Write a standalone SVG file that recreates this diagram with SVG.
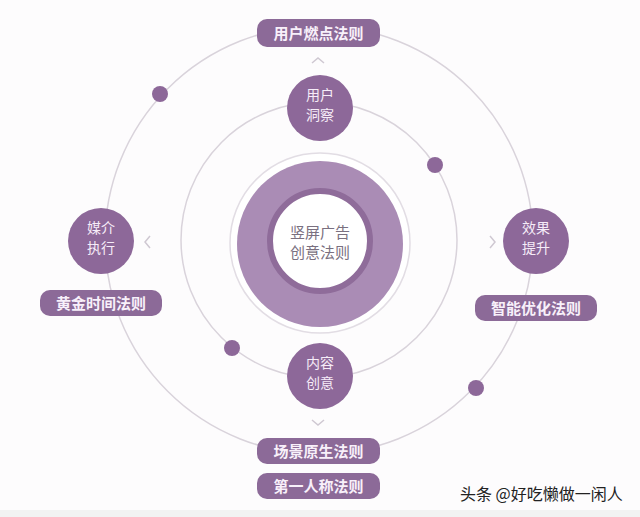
<svg xmlns="http://www.w3.org/2000/svg" width="640" height="517" viewBox="0 0 640 517">
<style>
.orbit{fill:none;stroke:#d9d3db;stroke-width:1.5}
.node{fill:#8d6899}
.dot{fill:#8d6899}
.lbl{fill:#8c6a98}
.ntxt{font-family:"Noto Sans CJK SC",sans-serif;font-size:14px;fill:#f6ecf8;text-anchor:middle}
.ltxt{font-family:"Noto Sans CJK SC",sans-serif;font-size:15px;font-weight:bold;fill:#f8f0fa;text-anchor:middle}
.ctxt{font-family:"Noto Sans CJK SC",sans-serif;font-size:15px;fill:#7a7080;text-anchor:middle}
.chev{fill:none;stroke:#cfc8d2;stroke-width:1.5}
</style>
<rect width="640" height="517" fill="#fdfcfd"/>
<rect x="0" y="510" width="640" height="7" fill="#f2f2f2"/>
<g id="connectors">
<circle class="orbit" cx="319" cy="240" r="214"/>
<circle class="orbit" cx="319" cy="240" r="138"/>
<polyline class="chev" points="312,63 318,58 324,63"/>
<polyline class="chev" points="312,420 318,425 324,420"/>
<polyline class="chev" points="150,236 145,242 150,248"/>
<polyline class="chev" points="490,236 495,242 490,248"/>
</g>
<g id="dots">
<circle class="dot" cx="160" cy="94" r="8"/>
<circle class="dot" cx="476" cy="388" r="8"/>
<circle class="dot" cx="435" cy="165" r="8"/>
<circle class="dot" cx="232" cy="348" r="8"/>
</g>
<g id="center">
<circle cx="320" cy="243" r="90" fill="#fff" stroke="#e2dde4" stroke-width="1.5"/>
<circle cx="320" cy="244" r="83" fill="#aa8cb5"/>
<circle cx="320" cy="241" r="50" fill="#fff" stroke="#8f6c9a" stroke-width="6"/>
<text class="ctxt" x="320" y="238">竖屏广告</text>
<text class="ctxt" x="320" y="258">创意法则</text>
</g>
<g id="node-user">
<circle class="node" cx="320" cy="108" r="33"/>
<text class="ntxt" x="320" y="100">用户</text>
<text class="ntxt" x="320" y="120">洞察</text>
</g>
<g id="node-content">
<circle class="node" cx="320" cy="376" r="33"/>
<text class="ntxt" x="320" y="368">内容</text>
<text class="ntxt" x="320" y="388">创意</text>
</g>
<g id="node-media">
<circle class="node" cx="101" cy="241" r="33"/>
<text class="ntxt" x="101" y="233">媒介</text>
<text class="ntxt" x="101" y="253">执行</text>
</g>
<g id="node-effect">
<circle class="node" cx="536" cy="241" r="33"/>
<text class="ntxt" x="536" y="233">效果</text>
<text class="ntxt" x="536" y="253">提升</text>
</g>
<g id="label-top">
<rect class="lbl" x="257" y="19" width="123" height="28" rx="10"/>
<text class="ltxt" x="318.5" y="38.5">用户燃点法则</text>
</g>
<g id="label-left">
<rect class="lbl" x="40" y="290" width="122" height="26" rx="10"/>
<text class="ltxt" x="101" y="308.5">黄金时间法则</text>
</g>
<g id="label-right">
<rect class="lbl" x="475" y="295" width="122" height="26" rx="10"/>
<text class="ltxt" x="536" y="313.5">智能优化法则</text>
</g>
<g id="label-bottom1">
<rect class="lbl" x="257" y="438" width="123" height="26" rx="10"/>
<text class="ltxt" x="318.5" y="456.5">场景原生法则</text>
</g>
<g id="label-bottom2">
<rect class="lbl" x="257" y="473" width="123" height="26" rx="10"/>
<text class="ltxt" x="318.5" y="491.5">第一人称法则</text>
</g>
<text x="460" y="500" font-family="Noto Sans CJK SC,sans-serif" font-size="16" fill="#222">头条 @好吃懒做一闲人</text>
</svg>
